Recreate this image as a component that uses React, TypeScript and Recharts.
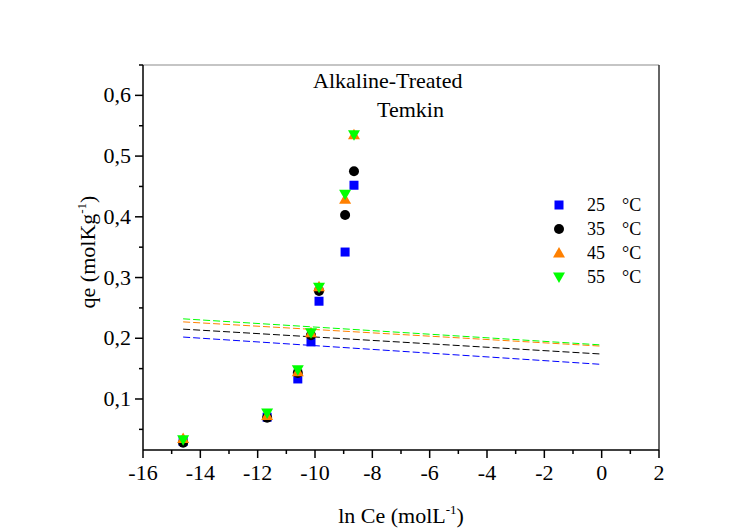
import { ScatterChart, Scatter, XAxis, YAxis, Legend, ReferenceLine } from 'recharts';

// ln Ce positions shared by all temperatures
const lnCe = [-14.6, -11.67, -10.6, -10.14, -9.86, -8.95, -8.64];
const qe25 = [0.03, 0.07, 0.133, 0.194, 0.261, 0.342, 0.452];
const qe35 = [0.028, 0.069, 0.143, 0.205, 0.278, 0.403, 0.475];
const qe45 = [0.035, 0.073, 0.145, 0.209, 0.285, 0.429, 0.535];
const qe55 = [0.033, 0.077, 0.148, 0.209, 0.284, 0.437, 0.535];

// Temkin fits (dashed lines)
const fitX = [-14.6, 0];
const fit25 = [0.202, 0.157];
const fit35 = [0.215, 0.174];
const fit45 = [0.227, 0.187];
const fit55 = [0.232, 0.189];

const temps = ['25', '35', '45', '55'];
const xTicks = [-16, -15, -14, -13, -12, -11, -10, -9, -8, -7, -6, -5, -4, -3, -2, -1, 0, 1, 2];
const yTicks = [0.05, 0.1, 0.15, 0.2, 0.25, 0.3, 0.35, 0.4, 0.45, 0.5, 0.55, 0.6, 0.65];

const FONT = '"Liberation Serif", "Times New Roman", serif';
const colors = ['#0000ff', '#000000', '#ff8000', '#00ff00'];

const toPoints = (xs: number[], ys: number[]) => xs.map((x, i) => ({ x, y: ys[i] }));

const points = [qe25, qe35, qe45, qe55].map(ys => toPoints(lnCe, ys));
const fits = [fit25, fit35, fit45, fit55].map(ys => toPoints(fitX, ys));

function Marker({ kind, cx, cy, color }: { kind: number; cx: number; cy: number; color: string }) {
  if (kind === 0) return <rect x={cx - 4.5} y={cy - 4.5} width={9} height={9} fill={color} />;
  if (kind === 1) return <circle cx={cx} cy={cy} r={5} fill={color} />;
  if (kind === 2)
    return <polygon points={`${cx},${cy - 6} ${cx + 6},${cy + 4.5} ${cx - 6},${cy + 4.5}`} fill={color} />;
  return <polygon points={`${cx},${cy + 6} ${cx + 6},${cy - 4.5} ${cx - 6},${cy - 4.5}`} fill={color} />;
}

const XTick = (props: any) => {
  const { x, y, payload } = props;
  const v = payload.value;
  const major = Math.abs(v % 2) === 0;
  return (
    <g>
      <line x1={x} x2={x} y1={y} y2={y + (major ? 8 : 4)} stroke="#000" strokeWidth={1.5} />
      {major && (
        <text x={x} y={y + 30} textAnchor="middle" fontFamily={FONT} fontSize={22} fill="#000">
          {v}
        </text>
      )}
    </g>
  );
};

const YTick = (props: any) => {
  const { x, y, payload } = props;
  const v = payload.value;
  const major = Math.round(v * 100) % 10 === 0;
  return (
    <g>
      <line x1={x} x2={x - (major ? 8 : 4)} y1={y} y2={y} stroke="#000" strokeWidth={1.5} />
      {major && (
        <text x={x - 12} y={y + 7} textAnchor="end" fontFamily={FONT} fontSize={22} fill="#000">
          {v.toFixed(1).replace('.', ',')}
        </text>
      )}
    </g>
  );
};

const renderLegend = () => (
  <div style={{ position: 'relative', width: 120, height: 100, fontFamily: FONT, fontSize: 18 }}>
    {temps.map((t, i) => (
      <div key={t} style={{ position: 'absolute', left: 0, top: 24 * i, height: 24, width: 120 }}>
        <svg width={30} height={24} style={{ position: 'absolute', left: 4, top: 3 }}>
          <Marker kind={i} cx={15} cy={12} color={colors[i]} />
        </svg>
        <span style={{ position: 'absolute', left: 47, top: 4, lineHeight: '22px' }}>{t}</span>
        <span style={{ position: 'absolute', left: 82, top: 4, lineHeight: '22px' }}>°C</span>
      </div>
    ))}
  </div>
);

export default function App() {
  return (
    <div style={{ position: 'absolute', left: 0, top: 0, width: 749, height: 530, background: '#fff' }}>
      <ScatterChart width={749} height={530} margin={{ top: 65, right: 90, bottom: 50, left: 83 }}>
        <XAxis
          type="number"
          dataKey="x"
          domain={[-16, 2]}
          ticks={xTicks}
          interval={0}
          allowDataOverflow
          height={30}
          tickSize={0}
          tickMargin={0}
          tickLine={false}
          tick={<XTick />}
          axisLine={{ stroke: '#000', strokeWidth: 1.5 }}
        />
        <YAxis
          type="number"
          dataKey="y"
          domain={[0.016, 0.65]}
          ticks={yTicks}
          interval={0}
          allowDataOverflow
          width={60}
          tickSize={0}
          tickMargin={0}
          tickLine={false}
          tick={<YTick />}
          axisLine={{ stroke: '#000', strokeWidth: 1.5 }}
        />
        {/* frame: light top border, dark right border */}
        <ReferenceLine y={0.65} stroke="#8c8c8c" strokeWidth={1.2} ifOverflow="visible" />
        <ReferenceLine x={2} stroke="#333" strokeWidth={1.5} ifOverflow="visible" />
        <Legend
          layout="vertical"
          align="center"
          verticalAlign="middle"
          content={renderLegend}
          wrapperStyle={{ left: 540, top: 190, width: 120, height: 100 }}
        />
        {fits.map((d, i) => (
          <Scatter
            key={`fit${i}`}
            data={d}
            line={{ stroke: colors[i], strokeWidth: 1, strokeDasharray: '7 3' }}
            shape={() => <g />}
            legendType="none"
            isAnimationActive={false}
          />
        ))}
        {points.map((d, i) => (
          <Scatter
            key={`pts${i}`}
            name={`${temps[i]} °C`}
            data={d}
            fill={colors[i]}
            shape={(p: any) => <Marker kind={i} cx={p.cx} cy={p.cy} color={colors[i]} />}
            isAnimationActive={false}
          />
        ))}
        <text x={313} y={88} fontFamily={FONT} fontSize={22} fill="#000">
          Alkaline-Treated
        </text>
        <text x={377} y={117} fontFamily={FONT} fontSize={22} fill="#000">
          Temkin
        </text>
        <text x={401} y={523} textAnchor="middle" fontFamily={FONT} fontSize={22} fill="#000">
          ln Ce (molL
          <tspan fontSize={13} dy={-9}>-1</tspan>
          <tspan dy={9}>)</tspan>
        </text>
        <text
          x={95}
          y={252}
          transform="rotate(-90, 95, 252)"
          textAnchor="middle"
          fontFamily={FONT}
          fontSize={22}
          fill="#000"
        >
          qe (molKg
          <tspan fontSize={13} dy={-9}>-1</tspan>
          <tspan dy={9}>)</tspan>
        </text>
      </ScatterChart>
    </div>
  );
}
